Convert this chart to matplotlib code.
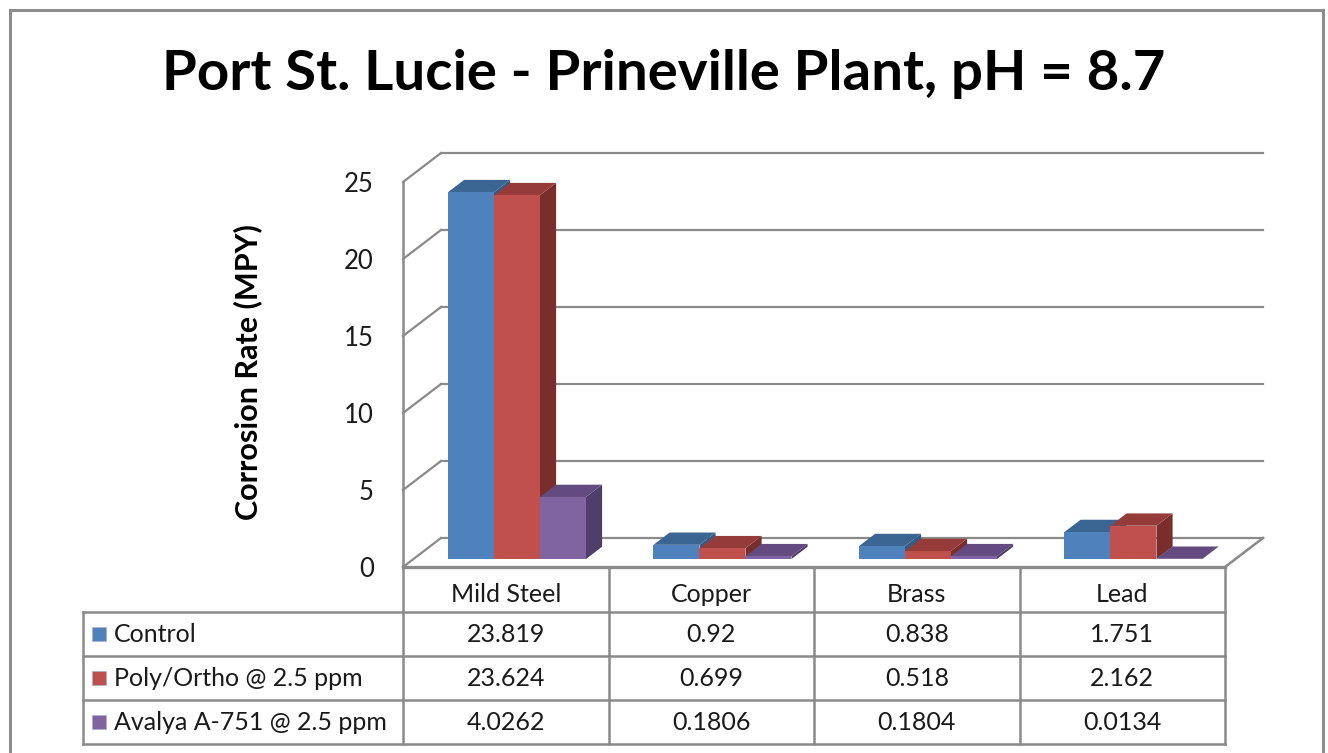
import matplotlib
matplotlib.use("Agg")
import matplotlib.pyplot as plt
from matplotlib.patches import Polygon, Rectangle
from matplotlib.lines import Line2D

# ── data ─────────────────────────────────────────────────────────────────────
categories = ["Mild Steel", "Copper", "Brass", "Lead"]
series_names = ["Control", "Poly/Ortho @ 2.5 ppm", "Avalya A-751 @ 2.5 ppm"]
control = [23.819, 0.92, 0.838, 1.751]
poly_ortho = [23.624, 0.699, 0.518, 2.162]
avalya = [4.0262, 0.1806, 0.1804, 0.0134]
y_ticks = [0, 5, 10, 15, 20, 25]

series_values = [control, poly_ortho, avalya]

# front / top / side shades of each series
face_cols = ["#4F81BD", "#C0504D", "#8064A2"]
top_cols = ["#3B6592", "#953C3A", "#634B80"]
side_cols = ["#365A86", "#7A2E2C", "#4F3E6A"]

GRID = "#8A8A8A"
TXT = "#1A1A1A"
W, H = 1328, 753

plt.rcParams["font.family"] = ["Lato", "DejaVu Sans"]

fig = plt.figure(figsize=(W / 100, H / 100), dpi=100)
fig.patch.set_facecolor("white")

# plot area = front plane of the 3D box
ax = fig.add_axes([403 / W, 1 - 567 / H, (1225 - 403) / W, (567 - 182) / H])
ax.set_xlim(0, len(categories))
ax.set_ylim(0, 25)
for s in ax.spines.values():
    s.set_visible(False)
ax.set_xticks([])
ax.set_yticks(y_ticks)
ax.set_yticklabels([str(t) for t in y_ticks], fontsize=18.5, color=TXT)
ax.tick_params(axis="y", length=0, pad=21)
ax.patch.set_alpha(0)

# depth of the box in data units
px_x = (1225 - 403) / len(categories)
px_y = (567 - 182) / 25
DX = 38 / px_x
DY = 29 / px_y


def proj(x, y, z):
    return (x + z * DX, y + z * DY)


# walls and gridlines
for t in y_ticks:
    ax.plot([0, DX], [t, t + DY], color=GRID, lw=1.6, clip_on=False, zorder=1)
    ax.plot([DX, len(categories) + DX], [t + DY, t + DY], color=GRID, lw=1.6,
            clip_on=False, zorder=1)
ax.plot([0, 0], [0, 25], color=GRID, lw=1.8, clip_on=False, zorder=1)
ax.plot([0, len(categories)], [0, 0], color=GRID, lw=2.4, clip_on=False, zorder=1)
ax.plot([len(categories), len(categories) + DX], [0, DY], color=GRID, lw=1.8,
        clip_on=False, zorder=1)

# bars
Z0, Z1 = 0.276, 0.70
bar_w = 46 / px_x
offset = 34.5 / px_x
zo = 3
for i in range(len(categories)):
    for j, vals in enumerate(series_values):
        v = vals[i]
        xl = i + offset + j * bar_w
        xr = xl + bar_w
        side = Polygon([proj(xr, 0, Z0), proj(xr, v, Z0), proj(xr, v, Z1), proj(xr, 0, Z1)],
                       closed=True, facecolor=side_cols[j], edgecolor="none",
                       clip_on=False, zorder=zo)
        top = Polygon([proj(xl, v, Z0), proj(xr, v, Z0), proj(xr, v, Z1), proj(xl, v, Z1)],
                      closed=True, facecolor=top_cols[j], edgecolor="none",
                      clip_on=False, zorder=zo + 0.1)
        ax.add_patch(side)
        ax.add_patch(top)
        ax.bar(xl + Z0 * DX, v, bottom=Z0 * DY, width=bar_w, align="edge",
               color=face_cols[j], edgecolor="none", clip_on=False, zorder=zo + 0.2)
        zo += 1

# ── data table ───────────────────────────────────────────────────────────────
inv = fig.transFigure.inverted()


def fx_data(x):
    return inv.transform(ax.transData.transform((x, 0)))[0]


def fy(py):
    return 1 - py / H


def fxp(px):
    return px / W


col_edges = [fx_data(i) for i in range(len(categories) + 1)]
left_edge = fxp(83)
row_edges = [567, 612, 656, 700, 744]
TFS = 18

kw = dict(color=GRID, lw=1.8, transform=fig.transFigure)
for xe in col_edges:
    fig.add_artist(Line2D([xe, xe], [fy(567), fy(744)], **kw))
fig.add_artist(Line2D([left_edge, left_edge], [fy(612), fy(744)], **kw))
for r in row_edges[1:]:
    fig.add_artist(Line2D([left_edge, col_edges[-1]], [fy(r), fy(r)], **kw))

for i, cat in enumerate(categories):
    cx = (col_edges[i] + col_edges[i + 1]) / 2
    fig.text(cx, fy(595), cat, ha="center", va="center", fontsize=TFS, color=TXT)

for j, name in enumerate(series_names):
    yc = (row_edges[j + 1] + row_edges[j + 2]) / 2
    fig.add_artist(Rectangle((fxp(92), fy(yc + 7)), 14 / W, 14 / H,
                             facecolor=face_cols[j], edgecolor="#B0B0C8", lw=0.6,
                             transform=fig.transFigure))
    fig.text(fxp(114), fy(yc + 1), name, ha="left", va="center",
             fontsize=TFS, color=TXT)
    for i in range(len(categories)):
        cx = (col_edges[i] + col_edges[i + 1]) / 2
        fig.text(cx, fy(yc + 1), f"{series_values[j][i]:g}", ha="center",
                 va="center", fontsize=TFS, color=TXT)

# ── titles and frame ────────────────────────────────────────────────────────
fig.text(0.5, fy(74), "Port St. Lucie - Prineville Plant, pH = 8.7", ha="center",
         va="center", fontsize=40.6, fontweight="bold", color="black")
fig.text(fxp(248), fy(372), "Corrosion Rate (MPY)", rotation=90, ha="center",
         va="center", fontsize=22, fontweight="bold", color="black")

fkw = dict(color="#8C8C8C", lw=2.2, transform=fig.transFigure)
fig.add_artist(Line2D([fxp(10), fxp(10)], [fy(10), 0], **fkw))
fig.add_artist(Line2D([fxp(10), fxp(1323)], [fy(10), fy(10)], **fkw))
fig.add_artist(Line2D([fxp(1323), fxp(1323)], [fy(10), 0], **fkw))

fig.savefig("out.png", dpi=100)
